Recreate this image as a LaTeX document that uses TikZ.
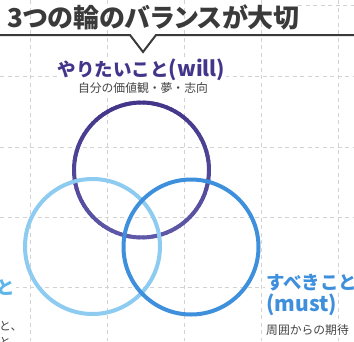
\documentclass[tikz,border=0pt]{standalone}
\usepackage{fontspec}
\setmainfont{Noto Sans CJK JP}
\newfontfamily\jpp[RawFeature=+palt]{Noto Sans CJK JP}
\definecolor{titlegray}{HTML}{3A3A3A}
\definecolor{willdark}{HTML}{43368A}
\definecolor{willlight}{HTML}{7474C0}
\definecolor{canblue}{HTML}{8DCBF1}
\definecolor{canlabel}{HTML}{5DB5E9}
\definecolor{mustblue}{HTML}{3E90DD}
\definecolor{subgray}{HTML}{444444}
\definecolor{gridgray}{HTML}{D2D2D2}
\tikzset{
  gridline/.style={gridgray, line width=0.8pt, dash pattern=on 4pt off 3.5pt},
  rule/.style={titlegray, line width=2pt, line join=miter},
  ring/.style={line width=4pt},
  lbl/.style={inner sep=1pt, fill=white, font=\bfseries},
  sub/.style={inner sep=1pt, fill=white, text=subgray, font=\fontsize{11.8}{14}\selectfont},
}
\begin{document}
\begin{tikzpicture}[x=1pt,y=-1pt]
\useasboundingbox (0,0) rectangle (354,341);
% grid
\foreach \x in {30,107,184,261,338} \draw[gridline] (\x,0) -- (\x,341);
\foreach \y in {76,147,217,287} \draw[gridline] (0,\y) -- (354,\y);
\draw[gridline] (298,5) -- (354,5);
% title
\node[anchor=west, inner sep=0, text=titlegray, font=\jpp\bfseries\fontsize{26}{27}\selectfont] (title) at (7,17) {3つの輪のバランスが大切};
\coordinate (rl) at (0,35);
\coordinate (va) at (130,35);
\coordinate (vt) at (143,52);
\coordinate (vb) at (156,35);
\coordinate (rr) at (354,35);
\draw[rule] (rl) -- (va) -- (vt) -- (vb) -- (rr);
% circles
\coordinate (cwill) at (141.5,170);
\coordinate (ccan) at (92.5,246.5);
\coordinate (cmust) at (191,247);
\foreach \a in {0,4,...,356}{
  \pgfmathsetmacro\p{100-55*(1+sin(\a+2))/2}
  \draw[ring, line cap=round, color=willdark!\p!willlight] (cwill) ++(\a:67.5) arc[start angle=\a, end angle=\a+4.2, radius=67.5];
}
\draw[ring, canblue] (ccan) circle[radius=67.5];
\draw[ring, mustblue] (cmust) circle[radius=67.5];
% labels
\node[lbl, text=willdark] (will) at (141.5,70) {\fontsize{18.5}{20}\selectfont やりたいこと\fontsize{21}{20}\selectfont(will)};
\node[sub] (willsub) at (143,88) {自分の価値観・夢・志向};
\node[lbl, text=mustblue, anchor=west] (must) at (265,283) {\fontsize{18.5}{20}\selectfont すべきこと};
\node[lbl, text=mustblue, anchor=west] (musten) at (265,305) {\fontsize{21}{22}\selectfont (must)};
\node[sub, anchor=west] (mustsub) at (265,330) {周囲からの期待};
\node[lbl, text=canlabel, anchor=west] (can) at (-5,288) {\fontsize{18.5}{20}\selectfont と};
\node[sub, anchor=west] (cansub1) at (-2,326) {と、};
\node[sub, anchor=west] (cansub2) at (-2,342) {と};
\end{tikzpicture}
\end{document}
